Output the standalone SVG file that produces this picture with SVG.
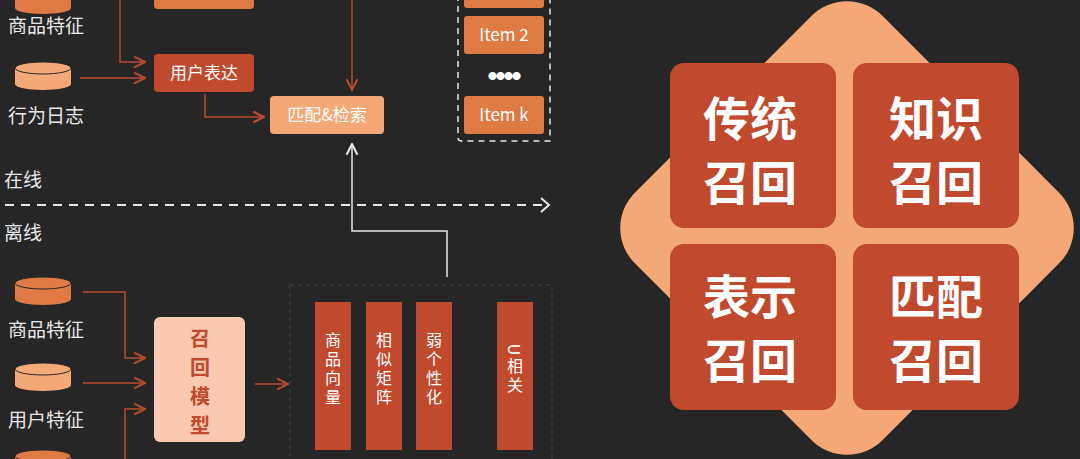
<svg xmlns="http://www.w3.org/2000/svg" width="1080" height="459" viewBox="0 0 1080 459">
<defs>
<style>
text{font-family:"Noto Sans CJK SC","Noto Sans",sans-serif;}
.lbl{fill:#e8e8e8;font-size:19px}
.c{stroke:#b84a30;stroke-width:1.5;fill:none}
.w{stroke:#e8e8e8;stroke-width:1.5;fill:none}
.bt{fill:#fff;font-size:17px;text-anchor:middle}
.vt{fill:#fff;font-size:16px;text-anchor:middle;writing-mode:vertical-rl;letter-spacing:3px}
.big{fill:#fff;font-size:47px;font-weight:bold;text-anchor:middle}
</style>
<marker id="a" viewBox="0 0 10 10" refX="9" refY="5" markerWidth="9" markerHeight="9" orient="auto"><path d="M1,1L9,5L1,9" fill="none" stroke="#b84a30" stroke-width="1.5"/></marker>
<marker id="aw" viewBox="0 0 10 10" refX="9" refY="5" markerWidth="9" markerHeight="9" orient="auto"><path d="M1,1L9,5L1,9" fill="none" stroke="#e8e8e8" stroke-width="1.5"/></marker>
<g id="cyl"><path d="M0,6 v16 a28,6 0 0 0 56,0 v-16" fill="currentColor"/><ellipse cx="28" cy="6" rx="28" ry="6" fill="currentColor" stroke="#262626" stroke-width="1"/></g>
</defs>
<rect width="1080" height="459" fill="#262626"/>
<g id="inputs-online">
<use href="#cyl" x="15" y="-14" color="#e07a45"/>
<text class="lbl" x="8" y="33">商品特征</text>
<use href="#cyl" x="15" y="62" color="#f4a777"/>
<text class="lbl" x="8" y="123">行为日志</text>
</g>
<g id="topbox"><rect x="154" y="-10" width="100" height="19" rx="4" fill="#e07a45"/></g>
<g id="user"><rect x="154" y="54" width="100" height="38" rx="4" fill="#c0492e"/><text class="bt" x="204" y="79">用户表达</text></g>
<g id="match"><rect x="270" y="96" width="114" height="38" rx="4" fill="#f4a777"/><text class="bt" x="327" y="121" fill="#fde">匹配&amp;检索</text></g>
<g id="items">
<path d="M458,-5V138Q458,141 462,141H550V-5" fill="none" stroke="#e8e8e8" stroke-width="1.5" stroke-dasharray="6,5"/>
<rect x="464" y="-10" width="80" height="18" rx="3" fill="#e07a45"/>
<rect x="464" y="16" width="80" height="38" rx="3" fill="#e07a45"/><text class="bt" x="504" y="41">Item 2</text>
<text x="504" y="79" fill="#fff" font-size="9" text-anchor="middle" letter-spacing="-1">●●●●</text>
<rect x="464" y="96" width="80" height="38" rx="3" fill="#e07a45"/><text class="bt" x="504" y="121">Item k</text>
</g>
<g id="divider">
<text class="lbl" x="4" y="187" font-size="21">在线</text>
<line x1="5" y1="205" x2="548" y2="205" stroke="#e8e8e8" stroke-width="2" stroke-dasharray="9,7"/>
<path d="M541,198L549,205L541,212" fill="none" stroke="#e8e8e8" stroke-width="2"/>
<text class="lbl" x="4" y="240" font-size="21">离线</text>
</g>
<g id="inputs-offline">
<use href="#cyl" x="15" y="277" color="#e07a45"/>
<text class="lbl" x="8" y="337">商品特征</text>
<use href="#cyl" x="15" y="363" color="#f4a777"/>
<text class="lbl" x="8" y="427">用户特征</text>
<use href="#cyl" x="15" y="450" color="#e07a45"/>
</g>
<g id="model"><rect x="154" y="317" width="91" height="125" rx="6" fill="#fbc9b0"/>
<text x="200" y="346" fill="#c0492e" font-size="20" font-weight="bold" text-anchor="middle">召</text>
<text x="200" y="375" fill="#c0492e" font-size="20" font-weight="bold" text-anchor="middle">回</text>
<text x="200" y="404" fill="#c0492e" font-size="20" font-weight="bold" text-anchor="middle">模</text>
<text x="200" y="433" fill="#c0492e" font-size="20" font-weight="bold" text-anchor="middle">型</text>
</g>
<g id="vectors">
<rect x="290" y="285" width="262" height="180" fill="none" stroke="#3a3a3a" stroke-width="1.5" stroke-dasharray="4,4"/>
<rect x="315" y="302" width="36" height="148" fill="#c0492e"/>
<rect x="366" y="302" width="36" height="148" fill="#c0492e"/>
<rect x="416" y="302" width="36" height="148" fill="#c0492e"/>
<rect x="497" y="302" width="36" height="148" fill="#c0492e"/>
<text class="vt" x="333" y="370">商品向量</text>
<text class="vt" x="384" y="370">相似矩阵</text>
<text class="vt" x="434" y="370">弱个性化</text>
<text class="vt" x="515" y="370">U相关</text>
</g>
<g id="connectors">
<path class="c" d="M120,0V62H145" marker-end="url(#a)"/>
<path class="c" d="M80,78H145" marker-end="url(#a)"/>
<path class="c" d="M205,94V117H264" marker-end="url(#a)"/>
<path class="c" d="M352,0V90" marker-end="url(#a)"/>
<path class="w" d="M447,277V231H352V144" marker-end="url(#aw)"/>
<path class="c" d="M83,292H125V358H145" marker-end="url(#a)"/>
<path class="c" d="M83,383H145" marker-end="url(#a)"/>
<path class="c" d="M125,459V409H145" marker-end="url(#a)"/>
<path class="c" d="M255,384H288" marker-end="url(#a)"/>
</g>
<g id="quad">
<rect x="672" y="53" width="350" height="350" rx="50" fill="#f4a777" transform="rotate(45 847 228)"/>
<rect x="670" y="63" width="166" height="165" rx="14" fill="#c0492e"/>
<rect x="853" y="63" width="166" height="165" rx="14" fill="#c0492e"/>
<rect x="670" y="244" width="166" height="166" rx="14" fill="#c0492e"/>
<rect x="853" y="244" width="166" height="166" rx="14" fill="#c0492e"/>
<text class="big"><tspan x="750" y="136">传统</tspan><tspan x="750" y="200">召回</tspan></text>
<text class="big"><tspan x="936" y="136">知识</tspan><tspan x="936" y="200">召回</tspan></text>
<text class="big"><tspan x="750" y="314">表示</tspan><tspan x="750" y="378">召回</tspan></text>
<text class="big"><tspan x="936" y="314">匹配</tspan><tspan x="936" y="378">召回</tspan></text>
</g>
</svg>
